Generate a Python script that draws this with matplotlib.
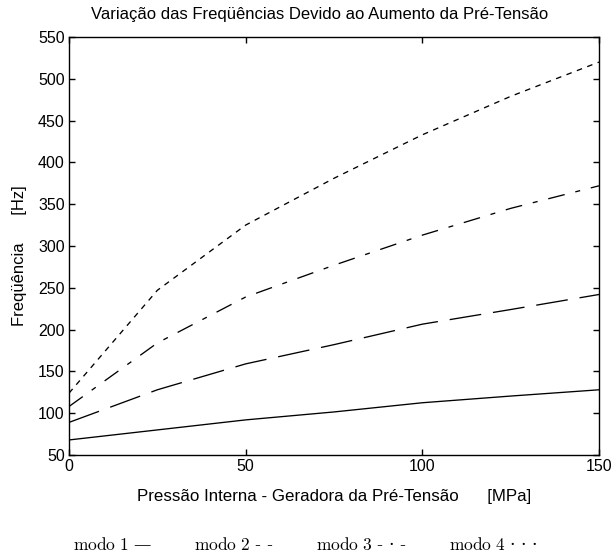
import matplotlib
matplotlib.use("Agg")
import matplotlib.pyplot as plt

# ---- data ----
pressao = [0, 25, 50, 75, 100, 125, 150]
modo1 = [68, 80, 92, 101.5, 112.5, 120.5, 128]
modo2 = [89, 128, 159, 182, 206.5, 224, 242]
modo3 = [108, 184, 239, 277, 313, 345, 372]
modo4 = [124, 247, 325, 381, 433, 479, 520]

xticks = [0, 50, 100, 150]
yticks = [50, 100, 150, 200, 250, 300, 350, 400, 450, 500, 550]

titulo = "Variação das Freqüências Devido ao Aumento da Pré-Tensão"
xlab = "Pressão Interna - Geradora da Pré-Tensão      [MPa]"
ylab = "Freqüência      [Hz]"
legenda = [r"$\mathrm{modo\ 1}$ —", r"$\mathrm{modo\ 2}$ - -",
           r"$\mathrm{modo\ 3}$ - · -", r"$\mathrm{modo\ 4}$ · · ·"]

plt.rcParams["font.family"] = ["Liberation Sans", "DejaVu Sans"]
plt.rcParams["lines.scale_dashes"] = False
plt.rcParams["mathtext.fontset"] = "cm"

W, H = 613, 553
fig = plt.figure(figsize=(W / 100, H / 100), dpi=100)
ax = fig.add_axes([69 / W, 1 - 455 / H, 530 / W, 418 / H])

lw = 0.95
ax.plot(pressao, modo1, color="black", lw=lw, linestyle="-")
ax.plot(pressao, modo2, color="black", lw=lw, linestyle=(0, (23, 8.6)))
ax.plot(pressao, modo3, color="black", lw=lw, linestyle=(0, (12.2, 7.9, 3.6, 7.9)))
ax.plot(pressao, modo4, color="black", lw=lw, linestyle=(0, (4, 4)))

ax.set_xlim(0, 150)
ax.set_ylim(50, 550)
ax.set_xticks(xticks)
ax.set_yticks(yticks)
ax.tick_params(direction="in", length=4, width=1, top=True, right=True,
               labelsize=11.5, colors="black")
ax.tick_params(axis="x", pad=3)
ax.tick_params(axis="y", pad=3)
for s in ax.spines.values():
    s.set_linewidth(1.0)

ax.set_title(titulo, fontsize=12, pad=13, x=0.472)
ax.set_xlabel(xlab, fontsize=12.2, labelpad=11)
ax.set_ylabel(ylab, fontsize=12, labelpad=8)
ax.yaxis.set_label_coords(-0.08, 0.476)

xs = [73, 194, 316, 449]
for x, t in zip(xs, legenda):
    fig.text(x / W, 1 - 545 / H, t, ha="left", va="center", fontsize=12.5,
             family=["DejaVu Serif"])

fig.savefig("out.png", dpi=100, facecolor="white")
